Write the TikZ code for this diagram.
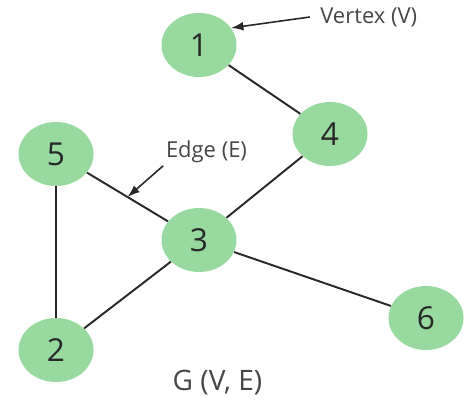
\documentclass[tikz,border=0pt]{standalone}
\usepackage{fontspec}
\setmainfont{Open Sans}
\definecolor{vertgreen}{RGB}{152, 217, 160}
\definecolor{inkgray}{RGB}{40, 40, 40}
\definecolor{labgray}{RGB}{70, 70, 70}
\usetikzlibrary{shapes.geometric, arrows.meta, calc}
\tikzset{
  vertex/.style={ellipse, fill=vertgreen, minimum width=1.5cm, minimum height=1.28cm, inner sep=0pt, font=\fontsize{18}{18}\selectfont, text=inkgray},
  edgeline/.style={draw=inkgray, line width=1.1pt},
  pointer/.style={draw=inkgray, line width=0.9pt, -{Latex[length=7pt, width=5pt]}},
  annot/.style={font=\fontsize{12.5}{14}\selectfont, text=labgray, inner sep=0.05cm}
}

\begin{document}
\begin{tikzpicture}
  \useasboundingbox (0, 0) rectangle (9.28, 8);

  % Vertices
  \node[vertex] (n1) at (3.98, 7.10) {1};
  \node[vertex] (n4) at (6.60, 5.32) {4};
  \node[vertex] (n5) at (1.12, 4.92) {5};
  \node[vertex] (n3) at (3.98, 3.20) {3};
  \node[vertex] (n6) at (8.52, 1.64) {6};
  \node[vertex] (n2) at (1.12, 1.00) {2};

  % Edges
  \draw[edgeline] (n1) -- (n4);
  \draw[edgeline] (n4) -- (n3);
  \draw[edgeline] (n5) -- (n3);
  \draw[edgeline] (n5) -- (n2);
  \draw[edgeline] (n2) -- (n3);
  \draw[edgeline] (n3) -- (n6);

  % Annotations
  \node[annot, anchor=west, inner xsep=0.2cm] (vlab) at (6.20, 7.66) {Vertex (V)};
  \draw[pointer] (vlab.west) -- (n1.28);

  \node[annot] (elab) at (4.13, 4.96) {Edge (E)};
  \coordinate (emid) at ($(n5)!0.5!(n3)$);
  \draw[pointer] (elab.south west) -- (emid);

  \node[font=\fontsize{16}{18}\selectfont, text=labgray] (glab) at (4.35, 0.34) {G (V, E)};
\end{tikzpicture}
\end{document}
